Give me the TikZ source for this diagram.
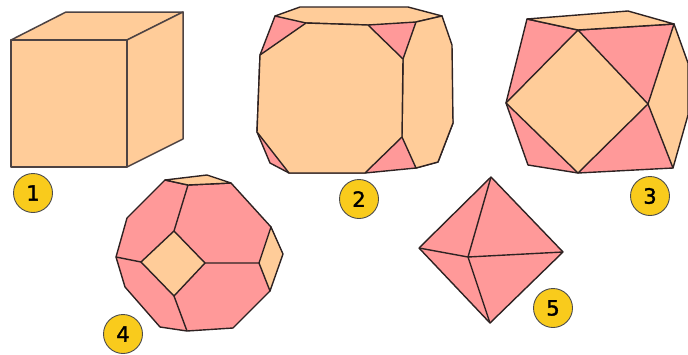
\documentclass[tikz,border=0pt]{standalone}
\usepackage{fontspec}
\setmainfont{DejaVu Sans}
\newfontfamily\badgefont[FakeBold=1.6]{DejaVu Sans}
\definecolor{peach}{HTML}{FFCC99}
\definecolor{rose}{HTML}{FF9999}
\definecolor{badge}{HTML}{F9CB1C}
\definecolor{edge}{HTML}{2E2222}
\tikzset{
  peachface/.style={fill=peach,draw=edge,line width=1.4pt,line join=round},
  roseface/.style={fill=rose,draw=edge,line width=1.4pt,line join=round},
  cubeface/.style={fill=peach,draw=edge!85!white,line width=1.5pt,line join=round},
  inneredge/.style={draw=edge,line width=1.4pt},
  badgenum/.style={circle,draw=black!70,line width=0.9pt,fill=badge,minimum size=39pt,inner sep=0pt,font=\badgefont\fontsize{21}{21}\selectfont,text=black}
}
\begin{document}
\begin{tikzpicture}[x=1pt,y=-1pt]
\useasboundingbox (0,0) rectangle (688,354);
% 1 cube
\draw[cubeface] (11,40)--(66,12)--(183,12)--(127,40)--cycle;
\draw[cubeface] (127,40)--(183,12)--(183,139)--(127,167)--cycle;
\draw[cubeface] (11,40)--(127,40)--(127,167)--(11,167)--cycle;
% 2 truncated cube
\draw[roseface] (275,16)--(442,16)--(453,123)--(438,162)--(416,168)--(365,173)--(289,173)--(270,163)--(257,132)--(260,55)--cycle;
\draw[peachface] (275,16)--(300,7)--(408,7)--(442,16)--(416,22)--(368,25)--(306,23)--cycle;
\draw[peachface] (442,16)--(452,45)--(453,123)--(438,162)--(416,168)--(402,137)--(403,59)--(416,22)--cycle;
\draw[peachface] (260,55)--(306,23)--(368,25)--(403,59)--(402,137)--(365,173)--(289,173)--(257,132)--cycle;
% 3 cuboctahedron
\draw[roseface] (527,19)--(578,30)--(674,24)--(673,168)--(578,173)--(528,165)--(506,103)--cycle;
\draw[peachface] (527,19)--(628,11)--(674,24)--(578,30)--cycle;
\draw[peachface] (674,24)--(688,63)--(688,115)--(673,168)--(648,104)--cycle;
\draw[peachface] (578,30)--(648,104)--(578,173)--(506,103)--cycle;
% 4 truncated octahedron
\draw[roseface] (165,180)--(188,185)--(231,183)--(271,227)--(270,291)--(233,328)--(187,331)--(160,327)--(125,287)--(116,257)--(127,218)--cycle;
\draw[peachface] (165,180)--(207,175)--(231,183)--(188,185)--cycle;
\draw[peachface] (271,227)--(283,254)--(270,291)--(259,263)--cycle;
\draw[peachface] (174,231)--(205,263)--(174,296)--(141,262)--cycle;
\draw[inneredge] (188,185)--(174,231) (205,263)--(259,263) (174,296)--(187,331) (141,262)--(116,257);
% 5 octahedron
\draw[roseface] (491,177)--(563,252)--(490,323)--(419,248)--cycle;
\draw[inneredge] (491,177)--(468,257)--(490,323) (419,248)--(468,257)--(563,252);
% badges
\node[badgenum] (n1) at (33,193) {1};
\node[badgenum] (n2) at (359,199) {2};
\node[badgenum] (n3) at (650,196) {3};
\node[badgenum] (n4) at (123,334) {4};
\node[badgenum] (n5) at (553,308) {5};
\end{tikzpicture}
\end{document}
